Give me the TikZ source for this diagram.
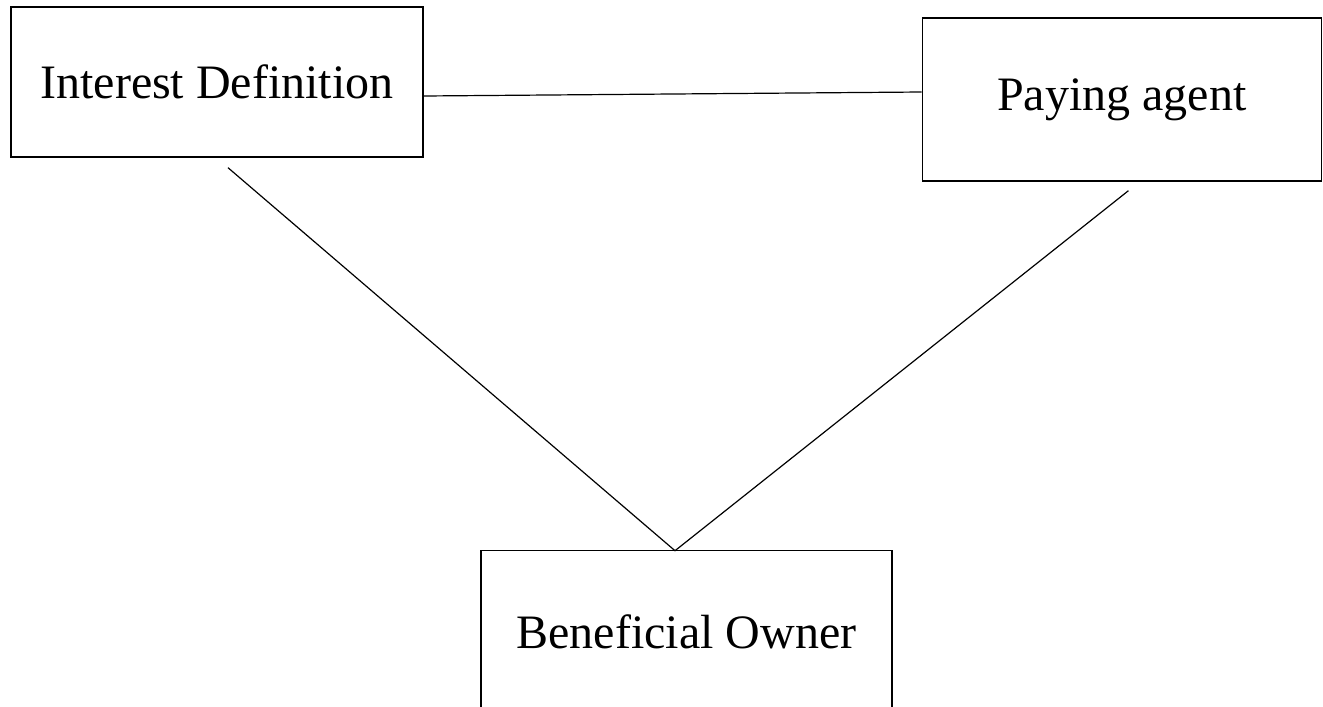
\documentclass[tikz,border=0pt]{standalone}
\usepackage{fontspec}
\setmainfont{Liberation Serif}
\usetikzlibrary{positioning}
\tikzset{
box/.style={draw, line width=0.7pt, inner sep=0pt, font=\fontsize{24}{29}\selectfont}, % the three boxes
link/.style={line width=0.6pt}, % plain lines, no arrow heads
}

\begin{document}
\begin{tikzpicture}[x=0.5pt, y=-0.5pt]
            \useasboundingbox (0,0) rectangle (1323,707);
            \node[box, minimum width=206pt, minimum height=75pt] (intdef) at (217,82) {Interest Definition};
            \node[box, minimum width=199.5pt, minimum height=81.5pt, right=249pt of intdef, yshift=-8.75pt] (payagent) {Paying agent};
            \node[box, minimum width=205.5pt, minimum height=81pt, below=196pt of intdef, xshift=234.75pt] (owner) {Beneficial Owner};

            % free ends of the slanted lines
            \coordinate (idfoot) at ([shift={(11,10)}]intdef.south);
            \coordinate (pafoot) at ([shift={(6.5,9)}]payagent.south);
            \coordinate (tip) at ([shift={(-11.5,1)}]owner.north);

            \draw[link]
                ([shift={(0,14)}]intdef.east) -- ([shift={(0,-7.5)}]payagent.west)
                (idfoot) -- (tip) -- (pafoot)
                ;
        \end{tikzpicture}
\end{document}
